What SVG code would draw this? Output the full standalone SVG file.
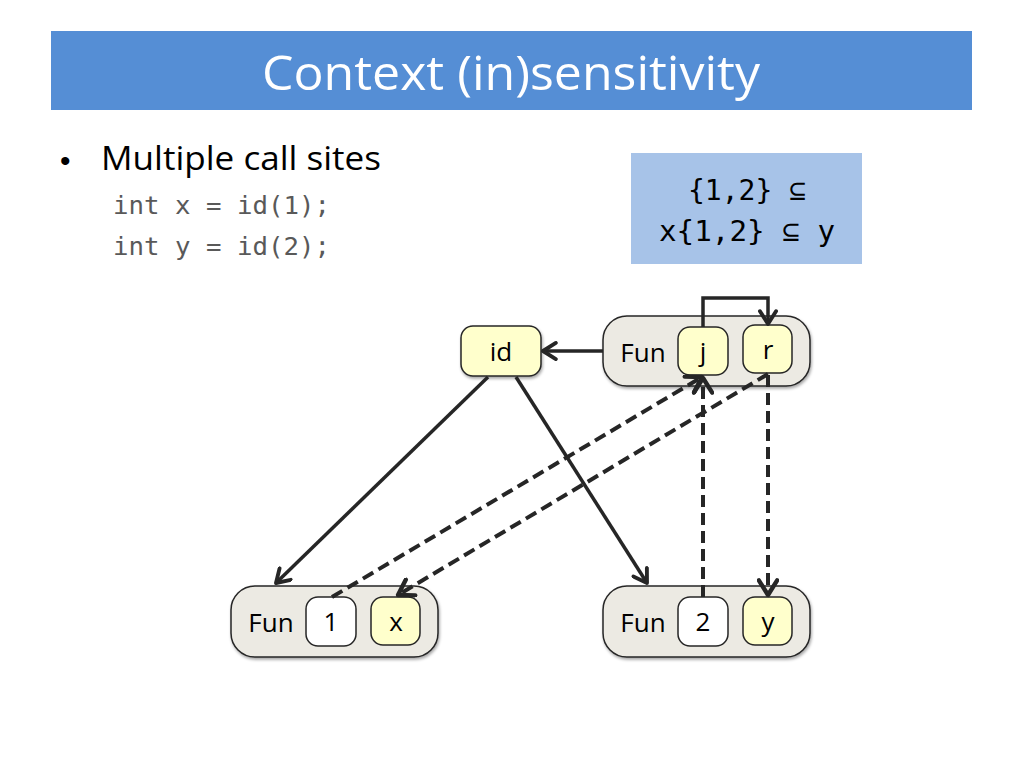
<svg xmlns="http://www.w3.org/2000/svg" width="1024" height="768" viewBox="0 0 1024 768">
<style>
.grp{fill:#ECEAE3;stroke:#262626;stroke-width:1.5}
.yel{fill:#FFFFCC;stroke:#262626;stroke-width:1.5}
.wht{fill:#FFFFFF;stroke:#262626;stroke-width:1.5}
.lbl{font-family:"Open Sans","Liberation Sans",sans-serif;font-size:26px;fill:#000;text-anchor:middle}
.code{font-family:"DejaVu Sans Mono","Liberation Mono",monospace;font-size:24px;fill:#595959}
.sol{fill:none;stroke:#262626;stroke-width:3.5;marker-end:url(#ah)}
.dash{fill:none;stroke:#262626;stroke-width:4;stroke-dasharray:12 6;marker-end:url(#ah)}
</style>
<defs>
<marker id="ah" viewBox="0 0 12 12" refX="10" refY="6" markerWidth="5.5" markerHeight="5.5" orient="auto" markerUnits="strokeWidth">
<path d="M2,1 L10,6 L2,11" fill="none" stroke="#262626" stroke-width="2.4" stroke-linecap="round" stroke-linejoin="round"/>
</marker>
<filter id="sh" x="-20%" y="-20%" width="140%" height="150%">
<feDropShadow dx="1" dy="2" stdDeviation="1.5" flood-color="#000" flood-opacity="0.35"/>
</filter>
</defs>
<rect x="51" y="31" width="921" height="79" fill="#558ED5"/>
<text x="511" y="90" font-family="Open Sans,Liberation Sans,sans-serif" font-size="48" fill="#FFFFFF" text-anchor="middle" textLength="498" lengthAdjust="spacingAndGlyphs">Context (in)sensitivity</text>
<text x="60" y="171" font-family="Liberation Sans,sans-serif" font-size="30" fill="#000">•</text>
<text x="101" y="170" font-family="Open Sans,Liberation Sans,sans-serif" font-size="32" fill="#000" textLength="280" lengthAdjust="spacingAndGlyphs">Multiple call sites</text>
<text class="code" x="113" y="214" textLength="217" lengthAdjust="spacingAndGlyphs">int x = id(1);</text>
<text class="code" x="113" y="255" textLength="217" lengthAdjust="spacingAndGlyphs">int y = id(2);</text>
<rect x="631" y="153" width="231" height="111" fill="#A7C3E8"/>
<text class="code" x="747" y="200" style="fill:#000;font-size:28px" text-anchor="middle">{1,2} ⊆</text>
<text class="code" x="747" y="241" style="fill:#000;font-size:28px" text-anchor="middle" textLength="176" lengthAdjust="spacingAndGlyphs">x{1,2} ⊆ y</text>

<g id="node-id">
<rect class="yel" x="461" y="326" width="80" height="50" rx="12" filter="url(#sh)"/>
<text class="lbl" x="501" y="361">id</text>
</g>
<g id="fun-top">
<rect class="grp" x="603" y="316" width="207" height="70" rx="24" filter="url(#sh)"/>
<text class="lbl" x="643" y="362">Fun</text>
<g id="node-j">
<rect class="yel" x="678" y="327" width="50" height="48" rx="12"/>
<text class="lbl" x="703" y="361">j</text>
</g>
<g id="node-r">
<rect class="yel" x="743" y="325" width="49" height="48" rx="12"/>
<text class="lbl" x="768" y="359">r</text>
</g>
</g>
<g id="fun-left">
<rect class="grp" x="231" y="586" width="207" height="71" rx="24" filter="url(#sh)"/>
<text class="lbl" x="271" y="632">Fun</text>
<g id="node-1">
<rect class="wht" x="306" y="597" width="50" height="49" rx="12"/>
<text class="lbl" x="331" y="631">1</text>
</g>
<g id="node-x">
<rect class="yel" x="371" y="597" width="49" height="48" rx="12"/>
<text class="lbl" x="396" y="631">x</text>
</g>
</g>
<g id="fun-right">
<rect class="grp" x="603" y="586" width="207" height="71" rx="24" filter="url(#sh)"/>
<text class="lbl" x="643" y="632">Fun</text>
<g id="node-2">
<rect class="wht" x="678" y="597" width="50" height="49" rx="12"/>
<text class="lbl" x="703" y="631">2</text>
</g>
<g id="node-y">
<rect class="yel" x="743" y="597" width="49" height="48" rx="12"/>
<text class="lbl" x="768" y="631">y</text>
</g>
</g>

<g id="connectors">
<path class="sol" d="M603,351 L543,351"/>
<path class="sol" d="M703,327 L703,298 L768,298 L768,324"/>
<path class="sol" d="M488,377 L276,583"/>
<path class="sol" d="M516,377 L647,583"/>
<path class="dash" d="M332,597 L702,377"/>
<path class="dash" d="M768,374 L398,595"/>
<path class="dash" d="M703,597 L703,378"/>
<path class="dash" d="M768,375 L768,595"/>
</g>
</svg>
